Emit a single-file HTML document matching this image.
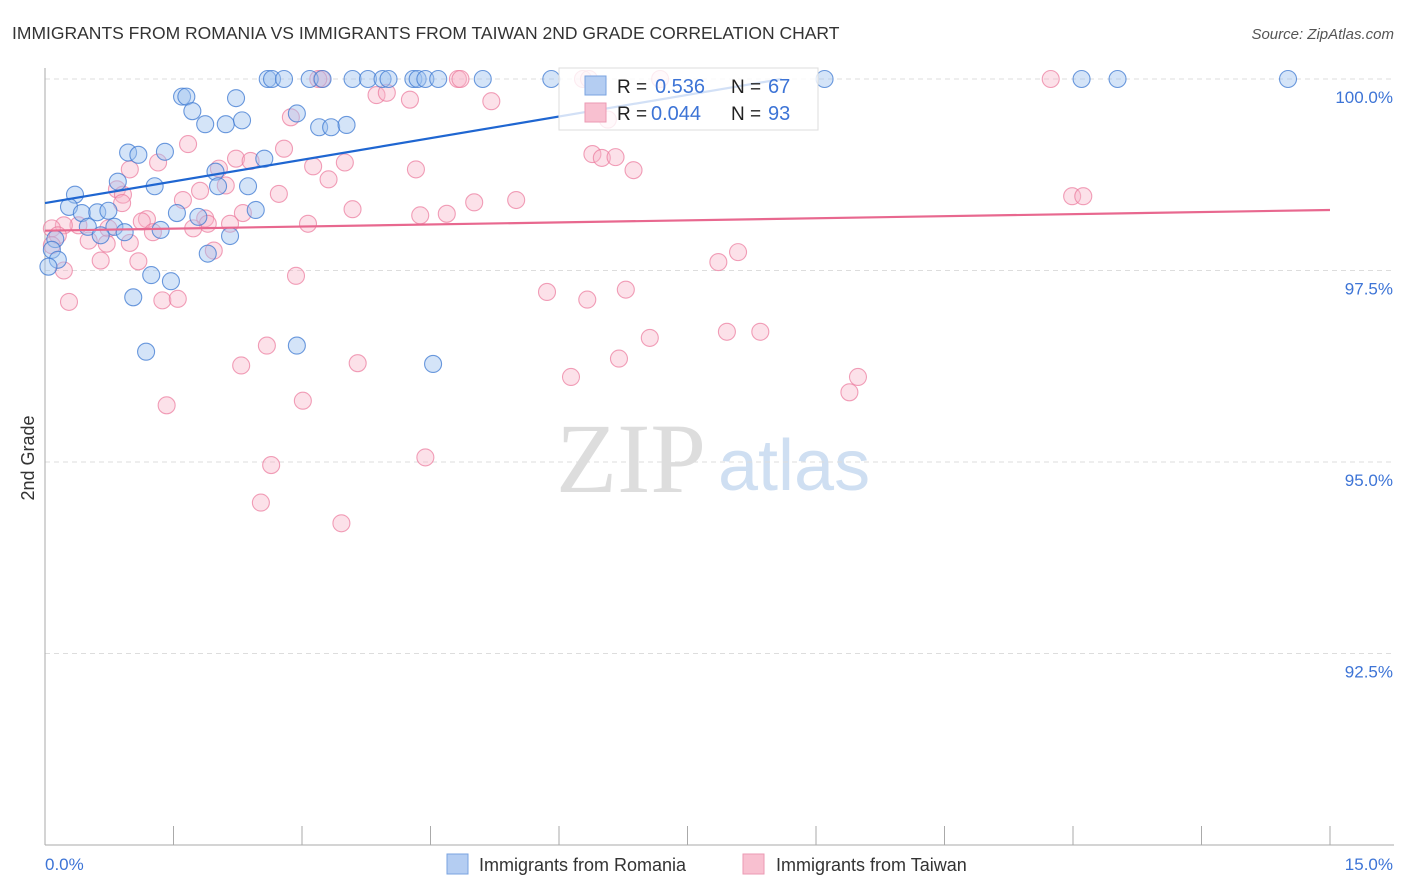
<!DOCTYPE html>
<html><head><meta charset="utf-8"><style>
body{margin:0;background:#fff;font-family:"Liberation Sans",sans-serif;}
#wrap{position:relative;width:1406px;height:892px;overflow:hidden}
</style></head><body>
<div id="wrap">
<svg id="svg" width="1406" height="892" xmlns="http://www.w3.org/2000/svg">
<text x="12" y="39" font-size="17.5" fill="#333">IMMIGRANTS FROM ROMANIA VS IMMIGRANTS FROM TAIWAN 2ND GRADE CORRELATION CHART</text>
<text x="1394" y="39" font-size="15" fill="#555" font-style="italic" text-anchor="end">Source: ZipAtlas.com</text>
<text x="34" y="458" font-size="18" fill="#333" text-anchor="middle" transform="rotate(-90 34 458)">2nd Grade</text>
<text x="556" y="492" font-size="100" fill="#ddd" font-family="Liberation Serif, serif">ZIP</text>
<text x="718" y="490" font-size="72" fill="#cfdff2">atlas</text>
<g id="grid"></g><g id="axes"></g><g id="pts"></g><g id="lines"></g><g id="leg"></g>
</svg></div>
<script>
const xTicks=[0,1.5,3,4.5,6,7.5,9,10.5,12,13.5,15];
const yTicks=[100,97.5,95,92.5];
const yTickLabels=["100.0%","97.5%","95.0%","92.5%"];
const romaniaX=[2.6,2.65,2.79,3.09,3.24,3.59,3.77,3.94,4.01,4.3,4.35,4.44,4.59,5.11,5.91,9.1,12.1,12.52,14.51,1.6,1.65,2.23,1.72,2.94,1.87,2.11,2.3,3.2,3.34,3.52,0.97,1.09,1.4,2.56,1.99,0.85,1.28,2.02,2.37,0.35,0.28,0.43,0.61,0.74,1.54,2.46,1.79,0.5,0.81,0.93,1.35,2.16,0.65,0.12,0.08,0.15,0.04,1.9,1.24,1.47,1.03,1.18,2.94,4.53];
const romaniaY=[100,100,100,100,100,100,100,100,100,100,100,100,100,100,100,100,100,100,100,99.77,99.77,99.75,99.58,99.55,99.41,99.41,99.46,99.37,99.37,99.4,99.04,99.01,99.05,98.96,98.79,98.66,98.6,98.6,98.6,98.49,98.33,98.25,98.26,98.28,98.25,98.29,98.2,98.07,98.07,98.0,98.03,97.95,97.96,97.91,97.77,97.64,97.55,97.72,97.44,97.36,97.15,96.44,96.52,96.28];
const taiwanX=[3.23,3.19,4.82,4.85,6.28,6.35,7.18,11.74,3.87,3.99,4.26,5.21,6.57,2.87,1.67,2.79,6.39,6.5,6.66,6.87,3.5,3.13,2.23,2.4,2.03,0.99,1.32,4.33,2.11,1.81,2.73,0.84,0.91,3.31,0.9,1.61,11.99,12.12,5.5,5.01,4.69,4.38,3.59,2.31,1.19,1.13,1.87,1.9,2.16,3.07,1.73,1.26,0.74,0.39,0.22,0.08,0.15,0.51,0.72,0.99,0.08,0.65,1.09,1.97,8.09,7.86,0.22,2.93,5.86,6.33,6.78,0.28,1.37,1.55,7.06,7.96,8.35,2.59,6.7,2.29,3.65,6.14,9.49,9.39,1.42,3.01,4.44,2.64,2.52,3.46];
const taiwanY=[100,100,100,100,100,100,100,100,99.79,99.82,99.73,99.71,99.47,99.5,99.15,99.09,99.02,98.97,98.98,98.81,98.91,98.86,98.96,98.93,98.83,98.82,98.91,98.82,98.61,98.54,98.5,98.56,98.49,98.69,98.38,98.42,98.47,98.47,98.42,98.39,98.24,98.22,98.3,98.25,98.17,98.14,98.18,98.11,98.11,98.11,98.05,98.0,98.05,98.09,98.09,98.05,97.96,97.89,97.85,97.86,97.83,97.63,97.62,97.76,97.74,97.61,97.5,97.43,97.22,97.12,97.25,97.09,97.11,97.13,96.62,96.7,96.7,96.52,96.35,96.26,96.29,96.11,96.11,95.91,95.74,95.8,95.06,94.96,94.47,94.2];
const blueLine=[[0,98.38],[8.6,100]];
const pinkLine=[[0,98.02],[15,98.29]];
const NS="http://www.w3.org/2000/svg";
const X=v=>45+v*(1285/15);
const Y=v=>79+(100-v)*76.6;
function mk(t,a,p){const e=document.createElementNS(NS,t);for(const k in a)e.setAttribute(k,a[k]);p.appendChild(e);return e;}
const grid=document.getElementById('grid'),axes=document.getElementById('axes');
yTicks.forEach((v,i)=>{
 const l=mk('line',{x1:45,x2:1394,y1:Y(v),y2:Y(v),stroke:'#ddd','stroke-dasharray':'5,4'},grid);
 
 
 const t=mk('text',{x:1393,y:Y(v)+24,'font-size':17,fill:'#3d74d6','text-anchor':'end'},axes);
 t.textContent=yTickLabels[i];
 
 
});
const ya=mk('line',{x1:45,x2:45,y1:68,y2:845,stroke:'#aaa'},axes);


const xa=mk('line',{x1:45,x2:1394,y1:845,y2:845,stroke:'#aaa'},axes);


xTicks.forEach(v=>{const t=mk('line',{x1:X(v),x2:X(v),y1:826,y2:845,stroke:'#aaa'},axes);
 
 });
[[0,'0.0%',45,'start'],[15,'15.0%',1393,'end']].forEach(d=>{const t=mk('text',{x:d[2],y:870,'font-size':17,fill:'#3d74d6','text-anchor':d[3]},axes);t.textContent=d[1];
 
 });
const pts=document.getElementById('pts');
function draw(xs,ys,fill,stroke,name){xs.forEach((x,i)=>{const c=mk('circle',{cx:X(x),cy:Y(ys[i]),r:8.5,fill:fill,stroke:stroke,'stroke-width':1.1},pts);
 
 });}
draw(taiwanX,taiwanY,'rgba(248,180,200,0.4)','rgba(235,120,155,0.7)','taiwan-point');
draw(romaniaX,romaniaY,'rgba(160,195,240,0.45)','rgba(60,120,210,0.75)','romania-point');
const lines=document.getElementById('lines');
const bl=mk('line',{x1:X(blueLine[0][0]),y1:Y(blueLine[0][1]),x2:X(blueLine[1][0]),y2:Y(blueLine[1][1]),stroke:'#1f66d1','stroke-width':2.2},lines);


const pl=mk('line',{x1:X(pinkLine[0][0]),y1:Y(pinkLine[0][1]),x2:X(pinkLine[1][0]),y2:Y(pinkLine[1][1]),stroke:'#e8688f','stroke-width':2.2},lines);


</script>
<svg width="1406" height="892" style="position:absolute;left:0;top:0">
<g>
<rect x="559" y="68" width="259" height="62" fill="rgba(255,255,255,0.8)" stroke="#ddd"/>
<rect x="585" y="76" width="21" height="19" fill="#b4cdf2" stroke="#7aa3e0"/>
<rect x="585" y="103" width="21" height="19" fill="#f8c0d0" stroke="#eb9ab3"/>
<text x="617" y="93" font-size="19" fill="#222">R = </text><text x="655" y="93" font-size="20" fill="#3d74d6">0.536</text>
<text x="731" y="93" font-size="19" fill="#222">N = </text><text x="768" y="93" font-size="20" fill="#3d74d6">67</text>
<text x="617" y="120" font-size="19" fill="#222">R = </text><text x="651" y="120" font-size="20" fill="#3d74d6">0.044</text>
<text x="731" y="120" font-size="19" fill="#222">N = </text><text x="768" y="120" font-size="20" fill="#3d74d6">93</text>
</g>
<g>
<rect x="447" y="854" width="21" height="20" fill="#b4cdf2" stroke="#7aa3e0"/>
<text x="479" y="871" font-size="18" fill="#333">Immigrants from Romania</text>
<rect x="743" y="854" width="21" height="20" fill="#f8c0d0" stroke="#eb9ab3"/>
<text x="776" y="871" font-size="18" fill="#333">Immigrants from Taiwan</text>
</g>
</svg>
</body></html>
